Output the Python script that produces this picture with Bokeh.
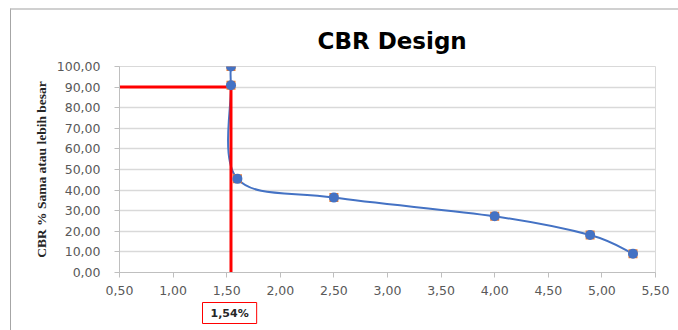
from bokeh.plotting import figure
from bokeh.models import FixedTicker, CustomJSTickFormatter, ColumnDataSource, Range1d, Title
from bokeh.embed import file_html
from bokeh.resources import INLINE

# ---- data ----
x_vals = [1.54, 1.54, 1.60, 2.50, 4.00, 4.89, 5.29]
cbr_vals = [100.00, 90.91, 45.45, 36.36, 27.27, 18.18, 9.09]
x_ticks = [0.5, 1.0, 1.5, 2.0, 2.5, 3.0, 3.5, 4.0, 4.5, 5.0, 5.5]
y_ticks = [0, 10, 20, 30, 40, 50, 60, 70, 80, 90, 100]
design_pct = 90
design_cbr = 1.54
design_label = "1,54%"
title_text = "CBR Design"
y_title = "CBR % Sama atau lebih besar"

# ---- smooth (Excel-like) curve control points from data ----
n = len(x_vals)
px = [x_vals[0]] + x_vals + [x_vals[-1]]
py = [cbr_vals[0]] + cbr_vals + [cbr_vals[-1]]
seg = dict(x0=[], y0=[], x1=[], y1=[], cx0=[], cy0=[], cx1=[], cy1=[])
for i in range(n - 1):
    a, b = i + 1, i + 2
    seg["x0"].append(px[a]); seg["y0"].append(py[a])
    seg["x1"].append(px[b]); seg["y1"].append(py[b])
    seg["cx0"].append(px[a] + (px[b] - px[a - 1]) / 6)
    seg["cy0"].append(py[a] + (py[b] - py[a - 1]) / 6)
    seg["cx1"].append(px[b] - (px[b + 1] - px[a]) / 6)
    seg["cy1"].append(py[b] - (py[b + 1] - py[a]) / 6)

p = figure(width=668, height=322, output_backend="svg", toolbar_location=None,
           x_range=Range1d(0.5, 5.5), y_range=Range1d(0, 100),
           min_border_left=108, min_border_right=24, min_border_top=56, min_border_bottom=60)
p.styles = {"margin-left": "10px", "margin-top": "8px",
            "border-left": "1px solid #a6a6a6", "border-top": "2px solid #d0d0d0",
            "box-sizing": "border-box"}
p.background_fill_color = "white"
p.border_fill_color = "white"
p.outline_line_color = "#d9d9d9"

p.title.text = title_text
p.title.align = "left"
p.title.text_font = "DejaVu Sans"
p.title.text_font_style = "bold"
p.title.text_font_size = "23px"
p.title.text_color = "#000000"
p.title.standoff = 26
p.title.offset = 198

fmt = CustomJSTickFormatter(code="return tick.toFixed(2).replace('.', ',');")
for ax, ticks in ((p.xaxis, x_ticks), (p.yaxis, y_ticks)):
    ax.ticker = FixedTicker(ticks=ticks)
    ax.formatter = fmt
    ax.axis_line_color = "#bfbfbf"
    ax.major_tick_line_color = "#bfbfbf"
    ax.major_tick_out = 5
    ax.major_tick_in = 0
    ax.minor_tick_line_color = None
    ax.major_label_text_font = "DejaVu Sans"
    ax.major_label_text_font_size = "12.5px"
    ax.major_label_text_color = "#595959"

p.xaxis.major_label_standoff = 8
p.yaxis.major_label_standoff = 14
p.yaxis.axis_label = y_title
p.yaxis.axis_label_text_font = "Liberation Serif"
p.yaxis.axis_label_text_font_style = "bold"
p.yaxis.axis_label_text_font_size = "13.5px"
p.yaxis.axis_label_text_color = "#262626"
p.yaxis.axis_label_standoff = 5

p.xgrid.grid_line_color = None
p.ygrid.grid_line_color = "#d9d9d9"
p.ygrid.grid_line_width = 1.5

# smooth line
p.bezier(x0="x0", y0="y0", x1="x1", y1="y1", cx0="cx0", cy0="cy0", cx1="cx1", cy1="cy1",
         source=ColumnDataSource(seg), line_color="#4472C4", line_width=2)

# red design lines
p.line([x_ticks[0], design_cbr], [design_pct, design_pct], line_color="#ff0000", line_width=3)
p.line([design_cbr, design_cbr], [design_pct, y_ticks[0] - 3], line_color="#ff0000", line_width=3)

# markers
src = ColumnDataSource(dict(x=x_vals, y=cbr_vals))
p.scatter("x", "y", source=src, marker="square", size=9, fill_color="#ED7D31", line_color=None)
p.scatter("x", "y", source=src, marker="circle", size=10, fill_color="#4472C4", line_color=None)

# value box under the x axis
box = Title(text=design_label, align="left", offset=83, standoff=6,
            text_font="DejaVu Sans", text_font_style="bold", text_font_size="11px",
            text_color="#262626", border_line_color="#ff0000", border_line_width=1,
            background_fill_color="white", padding=(8, 8, 4, 4))
p.add_layout(box, "below")

open("out.html", "w").write(file_html(p, INLINE))
